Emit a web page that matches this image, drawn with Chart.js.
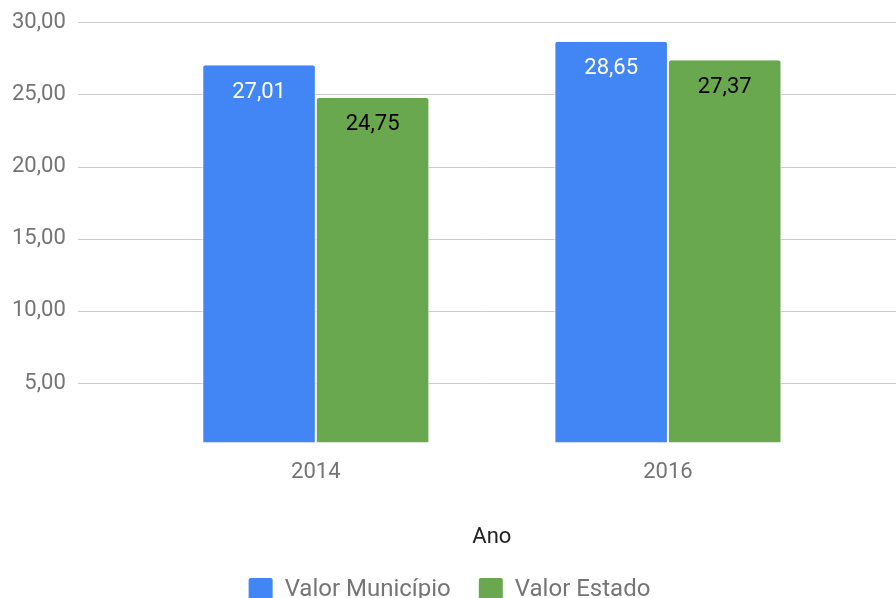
<!DOCTYPE html>
<html>
<head>
<meta charset="utf-8">
<script src="https://cdn.jsdelivr.net/npm/chart.js@4"></script>
<style>
  html, body { margin: 0; padding: 0; background: #fff; }
  #wrap { width: 896px; height: 598px; }
</style>
</head>
<body>
<div id="wrap"><canvas id="grafico"></canvas></div>
<script>
// dados do gráfico
const anos = ['2014', '2016']
const valorMunicipio = [27.01, 28.65]
const valorEstado = [24.75, 27.37]
const ticksY = [5, 10, 15, 20, 25, 30]

const fmt = v => v.toFixed(2).replace('.', ',')

// linhas de grade mais largas que a área do gráfico
const grade = {
    id: 'grade',
    beforeDatasetsDraw(chart) {
        const { ctx, chartArea, scales } = chart
        ctx.save()
        ctx.strokeStyle = '#cccccc'
        ctx.lineWidth = 1
        ticksY.forEach(t => {
            const y = Math.round(scales.y.getPixelForValue(t)) + 0.5
            ctx.beginPath()
            ctx.moveTo(chartArea.left - 62, y)
            ctx.lineTo(chart.width, y)
            ctx.stroke()
        })
        ctx.restore()
    }
}

// rótulos dentro das barras
const rotulos = {
    id: 'rotulos',
    afterDatasetsDraw(chart) {
        const ctx = chart.ctx
        ctx.save()
        ctx.font = '22px Roboto'
        ctx.textAlign = 'center'
        ctx.textBaseline = 'middle'
        chart.data.datasets.forEach((ds, i) => {
            chart.getDatasetMeta(i).data.forEach((bar, j) => {
                ctx.fillStyle = i === 0 ? '#ffffff' : '#000000'
                ctx.fillText(fmt(ds.data[j]), bar.x, bar.y + 27)
            })
        })
        ctx.restore()
    }
}

const ctx = document.getElementById('grafico')

new Chart(ctx, {
    type: 'bar',
    data: {
        labels: anos,
        datasets: [{
            label: 'Valor Município',
            data: valorMunicipio,
            backgroundColor: '#4285f4',
            borderColor: '#ffffff',
            borderWidth: { left: 1, right: 1, top: 0, bottom: 0 },
            borderRadius: { topLeft: 3, topRight: 3 },
            borderSkipped: 'bottom',
            categoryPercentage: 0.645,
            barPercentage: 1
        }, {
            label: 'Valor Estado',
            data: valorEstado,
            backgroundColor: '#6aa84f',
            borderColor: '#ffffff',
            borderWidth: { left: 1, right: 1, top: 0, bottom: 0 },
            borderRadius: { topLeft: 3, topRight: 3 },
            borderSkipped: 'bottom',
            categoryPercentage: 0.645,
            barPercentage: 1
        }]
    },
    options: {
        responsive: true,
        maintainAspectRatio: false,
        animation: false,
        layout: { padding: { left: 3, right: 0, top: 0, bottom: -14 } },
        plugins: {
            legend: {
                position: 'bottom',
                labels: {
                    font: { family: 'Roboto', size: 24 },
                    color: '#757575',
                    boxWidth: 24,
                    boxHeight: 24,
                    padding: 28,
                    generateLabels(chart) {
                        return chart.data.datasets.map((ds, i) => ({
                            text: ds.label,
                            fillStyle: ds.backgroundColor,
                            strokeStyle: ds.backgroundColor,
                            lineWidth: 0,
                            borderRadius: 2,
                            fontColor: '#757575',
                            datasetIndex: i
                        }))
                    },
                    useBorderRadius: true,
                    borderRadius: 2
                }
            },
            tooltip: { enabled: false }
        },
        scales: {
            x: {
                grid: { display: false },
                border: { display: false },
                ticks: {
                    font: { family: 'Roboto', size: 22 },
                    color: '#757575',
                    padding: 9
                },
                title: {
                    display: true,
                    text: 'Ano',
                    font: { family: 'Roboto', size: 22 },
                    color: '#222222',
                    padding: { top: 30, bottom: -1 }
                }
            },
            y: {
                min: 0.9,
                max: 30,
                grid: { display: true, color: 'rgba(0,0,0,0)', tickLength: 65 },
                border: { display: false },
                afterBuildTicks(scale) {
                    scale.ticks = ticksY.map(v => ({ value: v }))
                },
                ticks: {
                    font: { family: 'Roboto', size: 22 },
                    color: '#757575',
                    padding: 9,
                    callback: v => fmt(v)
                }
            },
            // eixo vazio só para reservar a margem direita
            y2: {
                position: 'right',
                grid: { display: true, drawOnChartArea: false, color: 'rgba(0,0,0,0)', tickLength: 52 },
                border: { display: false },
                ticks: { display: false }
            }
        }
    },
    plugins: [grade, rotulos]
})
</script>
</body>
</html>
